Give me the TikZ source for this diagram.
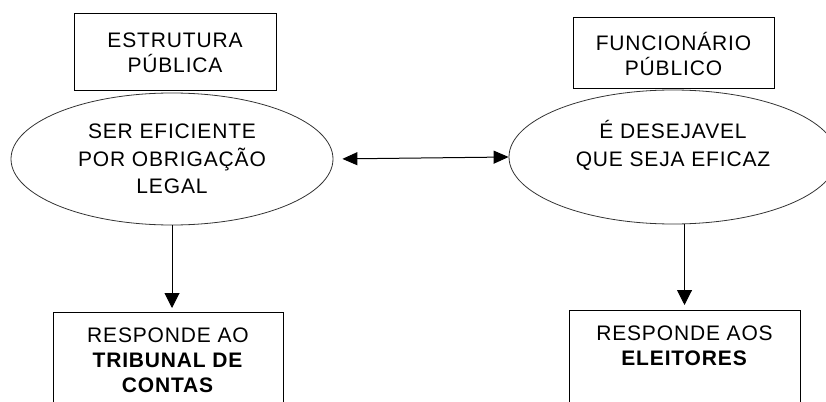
\documentclass[tikz,border=0pt]{standalone}
\usepackage{fontspec}
\setmainfont{Liberation Sans}[LetterSpace=4]
\usetikzlibrary{shapes.geometric,arrows.meta}

\begin{document}
\begin{tikzpicture}[x=1pt,y=-1pt]
    \tikzstyle{label box}=[rectangle,draw=black,line width=1pt,align=center,font=\fontsize{21}{25}\selectfont,inner sep=0pt]
    \tikzstyle{idea}=[ellipse,draw=black!80,line width=0.8pt,align=center,font=\fontsize{21}{27.5}\selectfont,inner sep=0pt,minimum width=322pt,minimum height=132pt]
    \tikzstyle{answer}=[rectangle,draw=black,line width=1pt,align=center,font=\fontsize{21}{25}\selectfont,anchor=north,inner xsep=0pt,inner ysep=15pt,minimum width=230pt,text depth=60pt]
    \tikzstyle{link}=[line width=1pt,-{Triangle[width=15pt,length=15pt]}]

    \useasboundingbox (0,0) rectangle (826,401);
    \clip (0,0) rectangle (826,401);

    \node (ls)[idea] at (172,159) {SER EFICIENTE\\POR OBRIGAÇÃO\\LEGAL};
    \node (rs)[idea,minimum width=328pt,minimum height=134pt] at (673,157) {É DESEJAVEL\\QUE SEJA EFICAZ\\[0pt]};

    \node (lt)[label box,minimum width=202pt,minimum height=77pt,fill=white] at (175,52.5) {ESTRUTURA\\PÚBLICA};
    \node (rt)[label box,minimum width=201pt,minimum height=71pt,fill=white] at (673.5,53.5) {FUNCIONÁRIO\\PÚBLICO};

    \node (lb)[answer] at (168,312) {RESPONDE AO\\\textbf{TRIBUNAL DE}\\\textbf{CONTAS}};
    \node (rb)[answer,minimum width=231pt] at (684.5,310) {RESPONDE AOS\\\textbf{ELEITORES}};

    \draw[link,{Triangle[width=13pt,length=15pt]}-{Triangle[width=13pt,length=15pt]},shorten <=9pt] (ls.east) -- (rs.west);
    \draw[link,shorten >=4pt] (ls.south) -- (ls.south |- lb.north);
    \draw[link,shorten >=5pt] (rb.north |- rs.south) -- (rb.north);
\end{tikzpicture}
\end{document}
